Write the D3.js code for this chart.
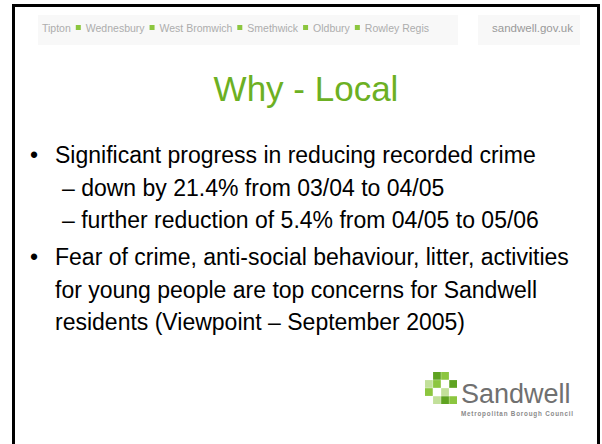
<!DOCTYPE html>
<html><head><meta charset="utf-8">
<script src="https://cdn.jsdelivr.net/npm/d3@7"></script>
<style>html,body{margin:0;padding:0;background:#fff}svg{display:block}</style>
</head><body>
<script>
const towns = ["Tipton","Wednesbury","West Bromwich","Smethwick","Oldbury","Rowley Regis"];
const site = "sandwell.gov.uk";
const title = "Why - Local";
const bullets = [
  {level:0, lines:["Significant progress in reducing recorded crime"]},
  {level:1, lines:["– down by 21.4% from 03/04 to 04/05"]},
  {level:1, lines:["– further reduction of 5.4% from 04/05 to 05/06"]},
  {level:0, lines:["Fear of crime, anti-social behaviour, litter, activities","for young people are top concerns for Sandwell","residents (Viewpoint – September 2005)"]}
];
const logoCells = [ // [col,row,shade]
  [1,0,2],[2,0,1],[0,1,0],[1,1,1],[3,1,2],[2,2,0],[0,2,1],[1,3,0],[3,3,1],[2,3,2]
];
const logoName = "Sandwell";
const logoSub = "Metropolitan Borough Council";

const W=602,H=444;
const svg=d3.select("body").append("svg").attr("width",W).attr("height",H);
const font="Liberation Sans, Arial, sans-serif";

// header band
const hdr=svg.append("g");
hdr.append("rect").attr("x",38).attr("y",15).attr("width",420).attr("height",30).attr("fill","#f8f8f8");
hdr.append("rect").attr("x",478).attr("y",15).attr("width",102).attr("height",30).attr("fill","#f8f8f8");
let hx=42;
towns.forEach((t,i)=>{
  const tx=hdr.append("text").attr("x",hx).attr("y",32).attr("font-family",font).attr("font-size",10.5).attr("fill","#adadad").text(t);
  hx+=tx.node().getComputedTextLength();
  if(i<towns.length-1){
    hdr.append("rect").attr("x",hx+5).attr("y",25).attr("width",5).attr("height",5).attr("fill","#8cc63f");
    hx+=15;
  }
});
hdr.append("text").attr("x",573).attr("y",32).attr("text-anchor","end").attr("font-family",font).attr("font-size",11.5).attr("fill","#9a9a9a").text(site);

// title
svg.append("text").attr("x",306).attr("y",101).attr("text-anchor","middle").attr("font-family",font)
  .attr("font-size",35).attr("fill","#6cb023").text(title);

// bullets
const baselines=[163,196,228,265,298,330];
const y=d3.scaleOrdinal().domain(d3.range(baselines.length)).range(baselines);
let li=0;
const body=svg.append("g").attr("font-family",font).attr("font-size",23).attr("fill","#000");
bullets.forEach(b=>{
  if(b.level===0){
    body.append("text").attr("x",30).attr("y",y(li)).text("•");
  }
  b.lines.forEach(l=>{
    body.append("text").attr("x",b.level===0?55:62).attr("y",y(li)).text(l);
    li++;
  });
});

// logo
const lg=svg.append("g");
const shades=["#c2e09a","#8cc63f","#5fa321"];
const cs=d3.scaleBand().domain([0,1,2,3]).range([425,457]).paddingInner(0.04);
const rs=d3.scaleBand().domain([0,1,2,3]).range([372,404]).paddingInner(0.04);
lg.selectAll("rect").data(logoCells).join("rect")
  .attr("x",d=>cs(d[0])).attr("y",d=>rs(d[1])).attr("width",cs.bandwidth()).attr("height",rs.bandwidth())
  .attr("fill",d=>shades[d[2]]);
lg.append("text").attr("x",461).attr("y",403).attr("font-family",font).attr("font-size",27).attr("fill","#707070").text(logoName);
lg.append("text").attr("x",461).attr("y",416).attr("font-family",font).attr("font-size",6.3).attr("font-weight","bold").attr("fill","#8a8a8a").attr("textLength",112).text(logoSub);

// border
svg.append("path").attr("d",`M13.5,${H+2}V5.5H598.5V${H+2}`).attr("fill","none").attr("stroke","#000").attr("stroke-width",3);
</script>
</body></html>
